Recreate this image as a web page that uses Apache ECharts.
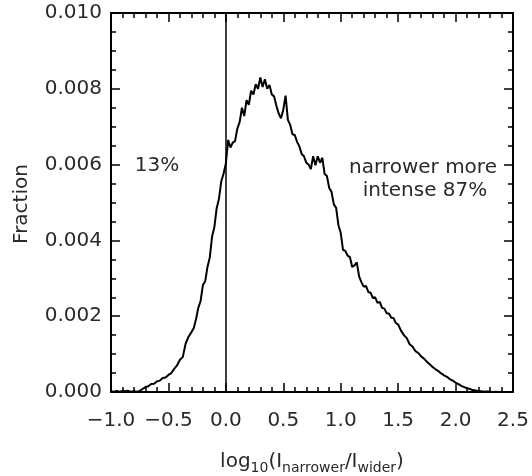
<!DOCTYPE html>
<html>
<head>
<meta charset="utf-8">
<script src="https://cdn.jsdelivr.net/npm/echarts@6/dist/echarts.min.js"></script>
<style>
html,body{margin:0;padding:0;background:#fff;}
#chart{width:532px;height:476px;}
</style>
</head>
<body>
<div id="chart"></div>
<script>
// bin centres (log10 ratio)
var binX = [
 -1.000,-0.975,-0.950,-0.925,-0.900,-0.875,-0.850,-0.825,-0.800,-0.775,-0.750,-0.725,-0.700,-0.675,-0.650,
 -0.625,-0.600,-0.575,-0.550,-0.525,-0.500,-0.475,-0.450,-0.425,-0.400,-0.375,-0.350,-0.325,-0.300,
 -0.28,-0.26,-0.24,-0.22,-0.20,-0.18,-0.16,-0.14,-0.12,-0.10,-0.08,-0.06,-0.04,-0.02,
 0.00,0.02,0.04,0.06,0.08,0.10,0.12,0.14,0.16,0.18,0.20,0.22,0.24,0.26,0.28,0.30,
 0.32,0.34,0.36,0.38,0.40,0.42,0.44,0.46,0.48,0.50,0.52,0.54,0.56,0.58,0.60,
 0.62,0.64,0.66,0.68,0.70,0.72,0.74,0.76,0.78,0.80,0.82,0.84,0.86,0.88,0.90,
 0.92,0.94,0.96,0.98,1.00,1.02,1.04,1.06,1.08,1.10,1.12,1.14,1.16,1.18,1.20,
 1.22,1.24,1.26,1.28,1.30,1.32,1.34,1.36,1.38,1.40,1.42,1.44,1.46,1.48,1.50,
 1.525,1.550,1.575,1.600,1.625,1.650,1.675,1.700,1.725,1.750,1.775,1.800,1.825,1.850,1.875,
 1.900,1.925,1.950,1.975,2.000,2.025,2.050,2.075,2.100,2.125,2.150,2.175,2.200,2.225,2.250,
 2.275,2.300,2.325,2.350,2.375,2.400,2.425,2.450,2.475,2.500
];
// fraction per bin
var fraction = [
 0.00002,0.00001,0.00003,0.00001,0.00003,0.00002,0.00003,0.00001,0.00002,0.00001,0.00003,0.00008,0.00013,0.00015,0.00021,
 0.00022,0.00028,0.00030,0.00037,0.00038,0.00045,0.00050,0.00061,0.00070,0.00085,0.00092,0.00128,0.00146,0.00158,
 0.00168,0.00192,0.00222,0.00240,0.00282,0.00292,0.00330,0.00355,0.00410,0.00435,0.00485,0.00510,0.00556,0.00576,
 0.00603,0.00665,0.00645,0.00658,0.00662,0.00695,0.00712,0.00750,0.00728,0.00770,0.00758,0.00795,0.00785,0.00812,0.00800,0.00830,
 0.00805,0.00825,0.00800,0.00810,0.00785,0.00780,0.00755,0.00735,0.00722,0.00745,0.00782,0.00718,0.00705,0.00680,0.00678,
 0.00660,0.00648,0.00628,0.00622,0.00605,0.00600,0.00588,0.00622,0.00598,0.00622,0.00605,0.00618,0.00575,0.00570,0.00538,
 0.00528,0.00495,0.00486,0.00440,0.00420,0.00375,0.00372,0.00360,0.00356,0.00330,0.00334,0.00342,0.00305,0.00290,0.00278,
 0.00280,0.00264,0.00262,0.00248,0.00250,0.00235,0.00238,0.00222,0.00220,0.00208,0.00207,0.00196,0.00195,0.00182,0.00178,
 0.00162,0.00150,0.00142,0.00126,0.00120,0.00108,0.00103,0.00094,0.00088,0.00080,0.00073,0.00066,0.00060,0.00055,0.00049,
 0.00044,0.00040,0.00034,0.00030,0.00025,0.00021,0.00016,0.00013,0.00010,0.00008,0.00005,0.00004,0.00002,0.00002,0.00001,
 0.00001,0.00001,0.00000,0.00001,0.00000,0.00000,0.00000,0.00000,0.00000,0.00000
];
var xTicks = {min:-1.0, max:2.5, step:0.5};
var yTicks = {min:0, max:0.010, step:0.002};
var divider = [0.0];
var leftNote = ['13%'];
var rightNote = ['narrower more', 'intense 87%'];
var yTitle = 'Fraction';

var FONT = 'DejaVu Sans';
var TXT = '#2a2a2a';
var FS = 20;
var pts = binX.map(function(x,i){return [x, fraction[i]];});

function xAxisDef(pos, showLabel){
  return {
    type:'value', position:pos, min:xTicks.min, max:xTicks.max, interval:xTicks.step,
    axisLine:{show:true, onZero:false, lineStyle:{color:'#000', width:2}},
    axisTick:{show:true, inside:true, length:9, lineStyle:{color:'#000', width:1.5}},
    minorTick:{show:true, splitNumber:5, length:5, lineStyle:{color:'#000', width:1.5}},
    splitLine:{show:false},
    axisLabel:{show:showLabel, margin:19, color:TXT, fontFamily:FONT, fontSize:FS,
      formatter:function(v){ return v.toFixed(1).replace('-', '\u2212'); }}
  };
}
function yAxisDef(pos, showLabel){
  return {
    type:'value', position:pos, min:yTicks.min, max:yTicks.max, interval:yTicks.step,
    axisLine:{show:true, onZero:false, lineStyle:{color:'#000', width:2}},
    axisTick:{show:true, inside:true, length:9, lineStyle:{color:'#000', width:1.5}},
    minorTick:{show:true, splitNumber:4, length:5, lineStyle:{color:'#000', width:1.5}},
    splitLine:{show:false},
    axisLabel:{show:showLabel, margin:9, color:TXT, fontFamily:FONT, fontSize:FS,
      formatter:function(v){ return v.toFixed(3); }}
  };
}

var chart = echarts.init(document.getElementById('chart'), null, {renderer:'canvas'});
chart.setOption({
  animation:false,
  backgroundColor:'#fff',
  grid:{left:111, right:19, top:13, bottom:84, containLabel:false},
  xAxis:[xAxisDef('bottom', true), xAxisDef('top', false)],
  yAxis:[yAxisDef('left', true), yAxisDef('right', false)],
  series:[{
    type:'line', xAxisIndex:0, yAxisIndex:0, data:pts, showSymbol:false, smooth:false,
    lineStyle:{color:'#000', width:2}, z:3,
    markLine:{silent:true, symbol:['none','none'], label:{show:false},
      lineStyle:{color:'#000', width:1.5, type:'solid'},
      data: divider.map(function(d){return {xAxis:d};})}
  }],
  graphic:[
    {type:'text', x:312, y:448, style:{
      text:'{m|log}{s|10}{m|(I}{s|narrower}{m|/I}{s|wider}{m|)}',
      align:'center',
      rich:{
        m:{fontFamily:FONT, fontSize:FS, fill:TXT, verticalAlign:'bottom', lineHeight:24},
        s:{fontFamily:FONT, fontSize:14, fill:TXT, verticalAlign:'bottom', lineHeight:18, padding:[0,0,-3,0]}
      }}},
    {type:'text', x:22, y:204, rotation:Math.PI/2, style:{
      text:yTitle, fontFamily:FONT, fontSize:FS, fill:TXT, align:'center', verticalAlign:'middle'}},
    {type:'text', x:157, y:166, style:{text:leftNote[0], fontFamily:FONT, fontSize:FS, fill:TXT, align:'center', verticalAlign:'middle'}},
    {type:'text', x:423, y:168, style:{text:rightNote[0], fontFamily:FONT, fontSize:FS, fill:TXT, align:'center', verticalAlign:'middle'}},
    {type:'text', x:425, y:191, style:{text:rightNote[1], fontFamily:FONT, fontSize:FS, fill:TXT, align:'center', verticalAlign:'middle'}}
  ]
});
</script>
</body>
</html>
